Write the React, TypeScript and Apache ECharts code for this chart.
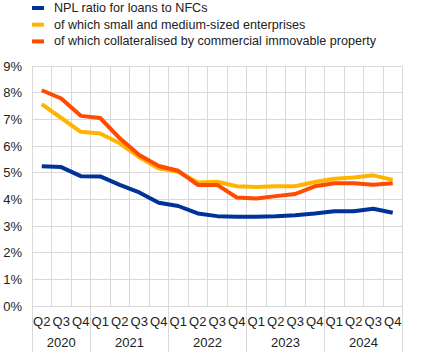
import React, { useEffect, useRef } from "react";
import * as echarts from "echarts";

const quarters = ["Q2", "Q3", "Q4", "Q1", "Q2", "Q3", "Q4", "Q1", "Q2", "Q3", "Q4", "Q1", "Q2", "Q3", "Q4", "Q1", "Q2", "Q3", "Q4"];
const years = ["2020", "2020", "2020", "2021", "2021", "2021", "2021", "2022", "2022", "2022", "2022", "2023", "2023", "2023", "2023", "2024", "2024", "2024", "2024"];

const nfcTotal = [5.24, 5.21, 4.87, 4.86, 4.54, 4.26, 3.87, 3.75, 3.47, 3.37, 3.35, 3.35, 3.37, 3.4, 3.47, 3.55, 3.55, 3.65, 3.5];
const smeValues = [7.57, 7.05, 6.53, 6.47, 6.1, 5.58, 5.16, 5.03, 4.63, 4.66, 4.49, 4.46, 4.49, 4.49, 4.65, 4.77, 4.82, 4.9, 4.73];
const creValues = [8.09, 7.78, 7.13, 7.05, 6.29, 5.66, 5.25, 5.07, 4.54, 4.54, 4.07, 4.03, 4.12, 4.2, 4.49, 4.6, 4.6, 4.55, 4.6];

const seriesNames = [
  "NPL ratio for loans to NFCs",
  "of which small and medium-sized enterprises",
  "of which collateralised by commercial immovable property",
];
const seriesColors = ["#003299", "#FFB400", "#FF4B00"];

const FONT = "Arial, 'Liberation Sans', sans-serif";
const GRID = "#d9d9d9";
const TEXT = "#222";

export default function App() {
  const ref = useRef<HTMLDivElement>(null);

  useEffect(() => {
    if (!ref.current) return;
    const chart = echarts.init(ref.current, null, { renderer: "svg" });

    const uniqueYears = Array.from(new Set(years));
    const yearCenters: Record<string, string> = {};
    const centerValues: number[] = [];
    uniqueYears.forEach((y) => {
      const idx = years.map((v, i) => (v === y ? i : -1)).filter((i) => i >= 0);
      const c = (idx[0] + idx[idx.length - 1]) / 2;
      centerValues.push(c);
      yearCenters[String(c)] = y;
    });

    const labels = quarters.map((q, i) => `${q}-${years[i]}`);

    chart.setOption({
      animation: false,
      textStyle: { fontFamily: FONT },
      legend: {
        orient: "vertical",
        left: 32,
        top: 1,
        padding: 0,
        itemGap: 2.7,
        itemWidth: 12,
        itemHeight: 4,
        icon: "rect",
        data: seriesNames,
        textStyle: {
          fontFamily: FONT,
          fontSize: 12.6,
          color: TEXT,
          lineHeight: 14,
          padding: [0, 0, 0, 5],
        },
      },
      grid: { left: 32, right: 22.5, top: 66, bottom: 51, containLabel: false },
      xAxis: [
        {
          type: "category",
          data: labels,
          boundaryGap: true,
          axisLine: { show: true, lineStyle: { color: GRID, width: 1 } },
          axisTick: {
            show: true,
            length: 46,
            interval: (index: number) => index === 0 || quarters[index] === "Q1",
            lineStyle: { color: GRID, width: 1 },
          },
          axisLabel: {
            interval: 0,
            margin: 9,
            fontSize: 13,
            fontFamily: FONT,
            color: TEXT,
            formatter: (v: string) => v.split("-")[0],
          },
          splitLine: { show: true, interval: 0, lineStyle: { color: GRID, width: 1 } },
        },
        {
          type: "value",
          position: "bottom",
          min: -0.5,
          max: quarters.length - 0.5,
          offset: 0,
          axisLine: { show: false },
          axisTick: { show: false },
          splitLine: { show: false },
          axisLabel: {
            show: true,
            customValues: centerValues,
            margin: 30,
            fontSize: 13,
            fontFamily: FONT,
            color: TEXT,
            formatter: (v: number) => yearCenters[String(v)] ?? "",
          },
        },
      ],
      yAxis: {
        type: "value",
        min: 0,
        max: 9,
        interval: 1,
        axisLine: { show: false },
        axisTick: { show: false },
        axisLabel: {
          margin: 10,
          fontSize: 13,
          fontFamily: FONT,
          color: TEXT,
          formatter: "{value}%",
        },
        splitLine: { show: true, lineStyle: { color: GRID, width: 1 } },
      },
      series: [nfcTotal, smeValues, creValues].map((d, i) => ({
        name: seriesNames[i],
        type: "line",
        xAxisIndex: 0,
        data: d,
        symbol: "none",
        smooth: false,
        color: seriesColors[i],
        lineStyle: { width: 4, color: seriesColors[i] },
      })),
    });

    return () => chart.dispose();
  }, []);

  return <div ref={ref} style={{ width: 425, height: 357, position: "absolute", left: 0, top: 0 }} />;
}
